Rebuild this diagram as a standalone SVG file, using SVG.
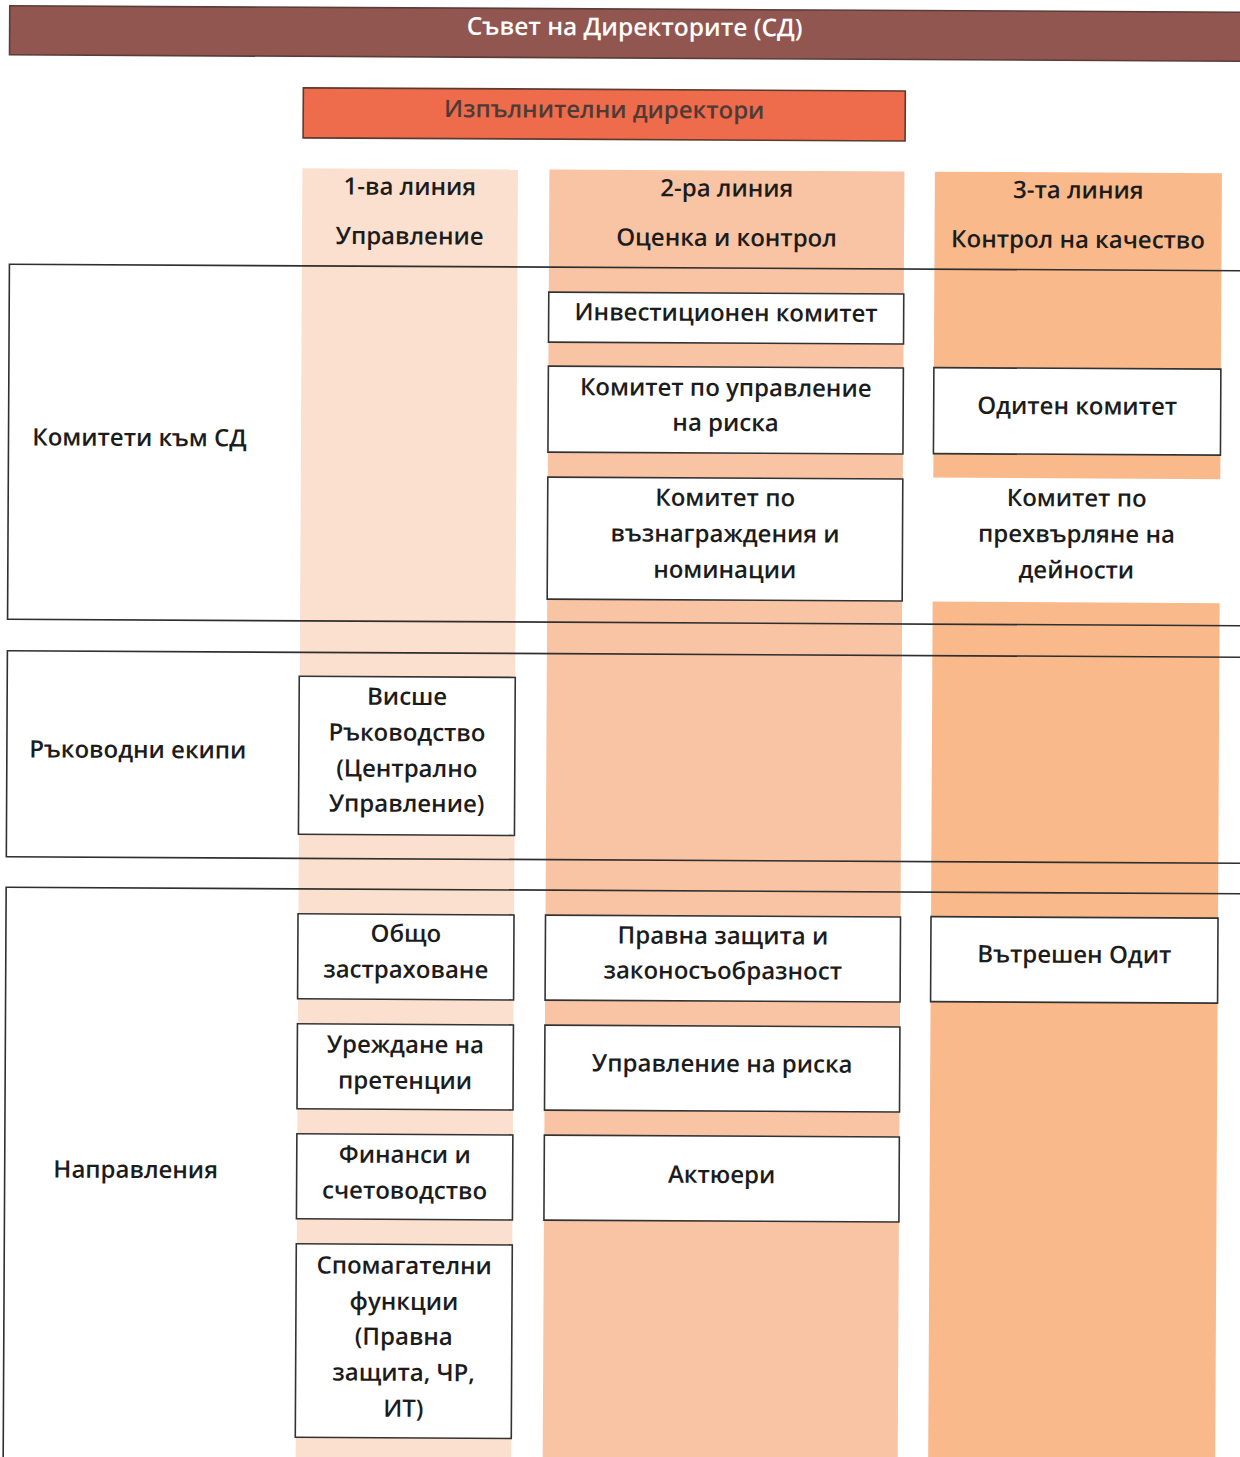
<svg xmlns="http://www.w3.org/2000/svg" width="1240" height="1457" viewBox="0 0 1240 1457">
<style>
.t{font-family:"Open Sans","Noto Sans","DejaVu Sans",sans-serif;font-size:24px;font-weight:600;fill:#1c1c1c;text-anchor:middle}
.box{fill:#ffffff;stroke:#333333;stroke-width:1.6}
.row{fill:none;stroke:#2f2f2f;stroke-width:1.6}
</style>
<rect x="0" y="0" width="1240" height="1457" fill="#ffffff"/>
<g transform="rotate(0.3 620 728)">
  <g id="columns">
    <rect id="col1" x="299.5" y="170" width="215.5" height="1310" fill="#fbe0cf"/>
    <rect id="col2" x="546.5" y="170" width="355" height="1310" fill="#f8c4a3"/>
    <rect id="col3" x="932" y="170" width="287" height="1310" fill="#f9b98b"/>
    <rect x="928" y="476" width="296" height="124" fill="#ffffff"/>
  </g>
  <g id="board">
    <rect x="6" y="9" width="1260" height="49" fill="#925650" stroke="#5a3c38" stroke-width="1.6"/>
    <text class="t" x="631" y="35.5" style="fill:#ffffff;font-size:24.5px">Съвет на Директорите (СД)</text>
  </g>
  <g id="executive">
    <rect x="300" y="89.5" width="602" height="50" fill="#ee6b4b" stroke="#5b3a30" stroke-width="1.6"/>
    <text class="t" x="601" y="118" style="fill:#4f3b36">Изпълнителни директори</text>
  </g>
  <g id="header1">
    <text class="t" x="407" y="196">1-ва линия</text>
    <text class="t" x="407" y="245.5">Управление</text>
  </g>
  <g id="header2">
    <text class="t" x="724" y="196">2-ра линия</text>
    <text class="t" x="724" y="245.5">Оценка и контрол</text>
  </g>
  <g id="header3">
    <text class="t" x="1075.5" y="196">3-та линия</text>
    <text class="t" x="1075.5" y="245.5">Контрол на качество</text>
  </g>
  <g id="row-committees">
    <rect class="row" x="7" y="267.5" width="1260" height="355"/>
    <text class="t" x="138" y="448.5">Комитети към СД</text>
  </g>
  <g id="row-management">
    <rect class="row" x="7" y="654" width="1260" height="206"/>
    <text class="t" x="138" y="760.5">Ръководни екипи</text>
  </g>
  <g id="row-directions">
    <rect class="row" x="7" y="890.5" width="1260" height="600"/>
    <text class="t" x="138" y="1180.5">Направления</text>
  </g>
  <g id="investment-committee">
    <rect class="box" x="546.5" y="292.5" width="355" height="50"/>
    <text class="t" x="724" y="320.5">Инвестиционен комитет</text>
  </g>
  <g id="risk-committee">
    <rect class="box" x="546.5" y="366.5" width="355" height="86"/>
    <text class="t" x="724" y="395.5">Комитет по управление</text>
    <text class="t" x="724" y="430.5">на риска</text>
  </g>
  <g id="remuneration-committee">
    <rect class="box" x="546.5" y="477.5" width="355" height="122"/>
    <text class="t" x="724" y="505.5">Комитет по</text>
    <text class="t" x="724" y="541.5">възнаграждения и</text>
    <text class="t" x="724" y="577.5">номинации</text>
  </g>
  <g id="audit-committee">
    <rect class="box" x="932" y="366" width="287" height="86"/>
    <text class="t" x="1075.5" y="412">Одитен комитет</text>
  </g>
  <g id="transfer-committee">
    <text class="t" x="1075.5" y="504">Комитет по</text>
    <text class="t" x="1075.5" y="540">прехвърляне на</text>
    <text class="t" x="1075.5" y="576">дейности</text>
  </g>
  <g id="senior-management">
    <rect class="box" x="299" y="678" width="216" height="158"/>
    <text class="t" x="407" y="706">Висше</text>
    <text class="t" x="407" y="742">Ръководство</text>
    <text class="t" x="407" y="778">(Централно</text>
    <text class="t" x="407" y="813">Управление)</text>
  </g>
  <g id="general-insurance">
    <rect class="box" x="299" y="915.5" width="216" height="85"/>
    <text class="t" x="407" y="943">Общо</text>
    <text class="t" x="407" y="979">застраховане</text>
  </g>
  <g id="claims">
    <rect class="box" x="299" y="1025.5" width="216" height="85"/>
    <text class="t" x="407" y="1054">Уреждане на</text>
    <text class="t" x="407" y="1090">претенции</text>
  </g>
  <g id="finance">
    <rect class="box" x="299" y="1135.5" width="216" height="85"/>
    <text class="t" x="407" y="1164">Финанси и</text>
    <text class="t" x="407" y="1200">счетоводство</text>
  </g>
  <g id="support">
    <rect class="box" x="299" y="1245.5" width="216" height="193.5"/>
    <text class="t" x="407" y="1275">Спомагателни</text>
    <text class="t" x="407" y="1311">функции</text>
    <text class="t" x="407" y="1346">(Правна</text>
    <text class="t" x="407" y="1382">защита, ЧР,</text>
    <text class="t" x="407" y="1418">ИТ)</text>
  </g>
  <g id="legal-compliance">
    <rect class="box" x="546.5" y="915.5" width="355" height="85"/>
    <text class="t" x="724" y="943.5">Правна защита и</text>
    <text class="t" x="724" y="978.5">законосъобразност</text>
  </g>
  <g id="risk-management">
    <rect class="box" x="546.5" y="1025.5" width="355" height="85"/>
    <text class="t" x="724" y="1071.5">Управление на риска</text>
  </g>
  <g id="actuaries">
    <rect class="box" x="546.5" y="1135.5" width="355" height="85"/>
    <text class="t" x="724" y="1182.5">Актюери</text>
  </g>
  <g id="internal-audit">
    <rect class="box" x="932" y="915" width="287" height="85"/>
    <text class="t" x="1075.5" y="960.5">Вътрешен Одит</text>
  </g>
  <g id="connectors"></g>
</g>
</svg>
